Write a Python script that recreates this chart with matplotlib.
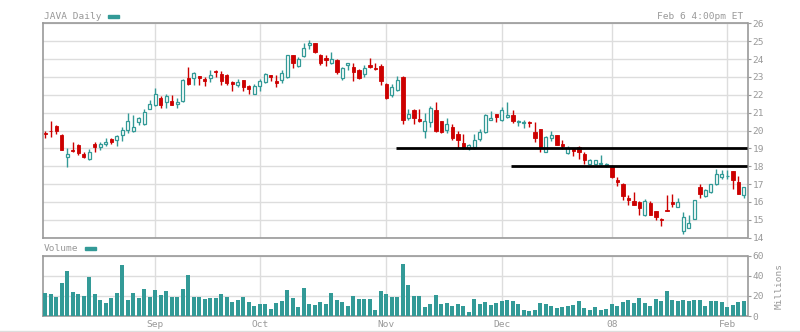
import numpy as np
import pandas as pd
import matplotlib
matplotlib.use("Agg")
import matplotlib.pyplot as plt
from matplotlib.lines import Line2D
from matplotlib.patches import Rectangle

# trading calendar, Aug 6 2007 .. Feb 6 2008
holidays = ["2007-09-03", "2007-11-22", "2007-12-25", "2008-01-01", "2008-01-21"]
days = pd.bdate_range("2007-08-06", "2008-02-06")
days = days[~days.isin(pd.to_datetime(holidays))]

opens = [19.87, 20.00, 20.24, 19.77, 18.50, 18.90, 19.20, 18.69, 18.38, 19.26,
         19.05, 19.27, 19.54, 19.45, 19.75, 20.00, 19.96, 20.47, 20.34, 21.23,
         21.44, 21.84, 21.57, 21.65, 21.50, 21.65, 22.96, 22.94, 23.03, 22.86,
         22.94, 23.34, 23.15, 23.09, 22.72, 22.55, 22.81, 22.50, 22.07, 22.51,
         22.70, 23.09, 22.78, 22.81, 23.00, 24.21, 23.62, 24.18, 24.76, 24.90,
         24.23, 24.07, 23.77, 23.97, 22.93, 23.64, 23.56, 23.39, 23.15, 23.67,
         23.52, 23.62, 22.60, 22.00, 22.29, 23.00, 20.72, 21.15, 20.64, 19.95,
         20.50, 21.15, 20.51, 20.05, 20.20, 19.80, 19.30, 19.02, 19.06, 19.54,
         19.93, 20.61, 20.93, 20.61, 20.76, 20.87, 20.48, 20.42, 20.50, 19.92,
         20.08, 18.79, 19.60, 19.75, 19.24, 18.72, 18.97, 19.06, 18.67, 18.10,
         18.10, 18.12, 18.09, 18.03, 17.24, 17.03, 16.24, 16.04, 16.02, 15.25,
         15.96, 15.51, 15.02, 15.55, 16.02, 15.72, 14.35, 14.57, 15.04, 16.81,
         16.32, 16.55, 16.98, 17.39, 17.45, 17.71, 17.09, 16.38]
highs = [20.00, 20.51, 20.30, 19.83, 19.00, 19.35, 19.24, 18.82, 18.95, 19.35,
         19.35, 19.58, 19.58, 19.77, 20.22, 21.00, 20.85, 20.76, 21.19, 21.70,
         22.39, 21.91, 22.05, 21.99, 21.82, 22.86, 23.53, 23.30, 23.07, 22.99,
         23.41, 23.41, 23.34, 23.17, 22.78, 22.87, 22.81, 22.55, 22.60, 22.89,
         23.22, 23.09, 23.09, 23.36, 24.21, 24.21, 24.10, 24.90, 25.04, 24.90,
         24.29, 24.20, 24.40, 24.00, 23.56, 23.77, 23.79, 23.45, 23.65, 24.07,
         23.79, 23.73, 22.64, 22.60, 23.07, 23.04, 21.20, 21.20, 21.20, 20.98,
         21.37, 21.62, 20.51, 20.70, 20.36, 19.99, 19.80, 19.24, 19.80, 20.08,
         20.94, 21.09, 20.93, 21.32, 21.62, 21.15, 20.61, 20.61, 20.55, 20.50,
         20.08, 19.71, 20.00, 19.75, 19.49, 19.14, 18.97, 19.14, 18.82, 18.39,
         18.37, 18.61, 18.20, 18.07, 17.37, 17.07, 16.38, 16.56, 16.04, 16.17,
         16.06, 15.51, 15.08, 16.41, 16.47, 16.23, 15.45, 15.29, 16.11, 17.03,
         16.71, 17.02, 17.82, 17.79, 17.79, 17.75, 17.43, 16.86]
lows = [19.58, 19.62, 19.81, 18.93, 17.97, 18.78, 18.65, 18.46, 18.35, 18.82,
        18.93, 19.14, 19.26, 19.14, 19.43, 19.87, 19.94, 20.28, 20.28, 21.19,
        21.38, 21.27, 21.27, 21.44, 21.27, 21.61, 22.52, 22.52, 22.52, 22.48,
        22.71, 22.99, 22.57, 22.57, 22.23, 22.44, 22.23, 22.05, 22.05, 22.23,
        22.66, 22.78, 22.46, 22.66, 22.93, 23.52, 23.56, 24.12, 24.57, 24.33,
        23.69, 23.62, 23.73, 23.19, 22.85, 23.36, 22.79, 22.89, 23.02, 23.49,
        23.36, 22.57, 21.77, 21.90, 22.23, 20.38, 20.59, 20.38, 20.48, 19.60,
        20.21, 19.92, 19.86, 19.88, 19.47, 19.02, 18.96, 18.90, 18.96, 19.39,
        19.88, 20.59, 20.50, 20.55, 20.70, 20.44, 20.27, 20.14, 20.20, 19.36,
        18.81, 18.78, 19.43, 19.20, 18.99, 18.71, 18.58, 18.41, 18.10, 18.10,
        18.10, 18.05, 17.95, 17.32, 16.88, 16.13, 15.81, 15.81, 15.25, 15.19,
        15.25, 15.00, 14.68, 15.47, 15.74, 15.72, 14.20, 14.53, 15.04, 16.21,
        16.28, 16.51, 16.94, 17.28, 17.26, 16.71, 16.45, 16.21]
closes = [19.83, 19.97, 19.96, 18.93, 18.69, 18.87, 18.74, 18.53, 18.82, 19.05,
          19.26, 19.33, 19.37, 19.69, 20.03, 20.55, 20.22, 20.68, 21.02, 21.48,
          22.03, 21.44, 21.91, 21.44, 21.57, 22.82, 22.61, 23.22, 22.94, 22.77,
          23.11, 23.28, 22.79, 22.66, 22.63, 22.70, 22.46, 22.35, 22.50, 22.78,
          23.17, 23.00, 22.68, 23.20, 24.21, 23.80, 24.00, 24.63, 24.90, 24.42,
          23.80, 23.92, 24.00, 23.30, 23.50, 23.76, 23.26, 22.96, 23.49, 23.56,
          23.47, 22.79, 21.82, 22.43, 22.83, 20.60, 20.91, 20.72, 20.51, 20.51,
          21.24, 19.95, 19.90, 20.35, 19.60, 19.49, 19.02, 19.17, 19.47, 19.92,
          20.87, 20.68, 20.78, 21.13, 20.87, 20.55, 20.55, 20.46, 20.42, 19.60,
          19.06, 19.64, 19.75, 19.20, 19.13, 19.00, 18.86, 18.80, 18.35, 18.33,
          18.33, 18.20, 18.14, 17.37, 17.11, 16.32, 16.09, 15.85, 15.64, 16.04,
          15.25, 15.14, 14.98, 15.50, 15.89, 15.98, 15.15, 14.85, 16.11, 16.43,
          16.68, 16.98, 17.58, 17.54, 17.48, 17.22, 16.47, 16.81]
# volume in millions of shares
volume = [23.2, 22.1, 18.5, 33.2, 44.3, 24.2, 22.1, 19.5, 39.3, 22.1,
          16.1, 13.1, 18.1, 23.2, 50.3, 16.1, 23.2, 18.1, 27.2, 19.1,
          26.2, 21.1, 25.2, 19.1, 19.1, 27.2, 40.3, 19.1, 19.1, 17.1,
          18.1, 18.1, 22.1, 19.1, 14.1, 16.1, 19.1, 14.1, 10.1,
          12.1, 12.1, 7.0, 13.1, 15.1, 26.2, 18.1, 9.1, 28.2, 12.1,
          11.1, 14.1, 12.1, 23.2, 16.1, 14.1, 10.1, 20.1, 17.1, 17.1,
          17.1, 6.0, 25.2,
          22.1, 18.5, 19.1, 51.3, 31.2, 20.1, 20.1, 9.1, 12.1, 21.1,
          12.1, 13.1, 10.1, 12.1, 10.1, 4.0, 17.1, 12.1, 14.1, 11.1, 13.1,
          15.1, 16.1, 15.1, 12.1, 6.0, 5.0, 6.0, 13.1, 12.1, 10.1,
          8.1, 9.1, 10.1, 11.1, 15.1, 8.1, 6.0, 9.1, 6.0, 7.0,
          12.1, 10.1, 14.1, 16.1, 13.1, 18.1, 13.1, 10.1, 17.1, 15.1,
          25.2, 16.1, 15.1, 16.1, 15.1, 16.1, 16.1, 10.1, 15.1, 15.1, 14.1,
          9.1, 11.1, 14.1, 15.1]

# support lines drawn from a given session to the right edge
support_levels = [19.0, 18.0]
support_from = ["2007-11-05", "2007-12-05"]

month_labels = ["Sep", "Oct", "Nov", "Dec", "08", "Feb"]
price_ticks = list(range(14, 27))
volume_ticks = [0, 20, 40, 60]

UP = "#339a97"
DOWN = "#cc0000"
GRID = "#dddddd"
FRAME = "#999999"
TEXT = "#999999"
FONT = "DejaVu Sans Mono"
FS = 6.8

o = np.array(opens)
h = np.array(highs)
l = np.array(lows)
c = np.array(closes)
x = np.arange(len(days))
up = c >= o

# first session of every month from September on
month_pos = [i for i in range(1, len(days)) if days[i].month != days[i - 1].month]

W, H = 800, 332
fig = plt.figure(figsize=(W / 100, H / 100), dpi=100)
ax = fig.add_axes([42.7 / W, 1 - 237.7 / H, 704.8 / W, 214.4 / H])
axv = fig.add_axes([42.7 / W, 1 - 316 / H, 704.8 / W, 60.3 / H])

xlim = (-0.47, len(days) - 1 + 0.67)

for a in (ax, axv):
    a.set_xlim(*xlim)
    for s in a.spines.values():
        s.set_color(FRAME)
        s.set_linewidth(1.2)
    a.set_xticks(month_pos)
    a.grid(True, color=GRID, linewidth=1.0)
    a.set_axisbelow(True)
    a.yaxis.tick_right()
    a.tick_params(axis="y", length=2, width=0.8, color=FRAME, pad=1.5,
                  labelsize=FS, labelcolor=TEXT)
    for t in a.get_yticklabels():
        t.set_fontfamily(FONT)

# candles: wicks first, then bodies (hollow for up days)
ax.vlines(x[up], l[up], h[up], color=UP, linewidth=1.0, zorder=2)
ax.vlines(x[~up], l[~up], h[~up], color=DOWN, linewidth=1.0, zorder=2)
body_lo = np.minimum(o, c)
body_hi = np.maximum(o, c)
ax.bar(x[up], body_hi[up] - body_lo[up], bottom=body_lo[up], width=0.55,
       facecolor="white", edgecolor=UP, linewidth=0.9, zorder=3)
ax.bar(x[~up], body_hi[~up] - body_lo[~up], bottom=body_lo[~up], width=0.62,
       facecolor=DOWN, edgecolor=DOWN, linewidth=0.6, zorder=3)

for lvl, d in zip(support_levels, support_from):
    start = days.get_loc(pd.Timestamp(d)) - 0.3
    ax.hlines(lvl, start, xlim[1], color="black", linewidth=2.0, zorder=4)

ax.set_ylim(14, 26)
ax.set_yticks(price_ticks)
ax.set_yticklabels([str(v) for v in price_ticks])
ax.tick_params(axis="x", length=0, labelbottom=False)

axv.bar(x, volume, width=0.72, color=UP, linewidth=0, zorder=3)
axv.set_ylim(0, 60)
axv.set_yticks(volume_ticks)
axv.set_yticklabels([str(v) for v in volume_ticks])
axv.set_xticklabels(month_labels, fontfamily=FONT, fontsize=FS, color=TEXT)
axv.tick_params(axis="x", length=0, pad=3)

# headers and legend swatches
fig.text(44 / W, 1 - 16.7 / H, "JAVA Daily", ha="left", va="center",
         fontfamily=FONT, fontsize=FS, color=TEXT)
fig.patches.append(Rectangle((108 / W, 1 - 17.5 / H), 11 / W, 3 / H,
                             transform=fig.transFigure, color=UP))
fig.text(743 / W, 1 - 16.7 / H, "Feb 6 4:00pm ET", ha="right", va="center",
         fontfamily=FONT, fontsize=FS, color=TEXT)
fig.text(44 / W, 1 - 248.5 / H, "Volume", ha="left", va="center",
         fontfamily=FONT, fontsize=FS, color=TEXT)
fig.patches.append(Rectangle((85 / W, 1 - 250 / H), 11 / W, 3 / H,
                             transform=fig.transFigure, color=UP))
fig.text(779 / W, 1 - 286 / H, "Millions", ha="center", va="center",
         rotation=90, fontfamily=FONT, fontsize=FS, color=TEXT)
fig.lines.append(Line2D([0, 1], [1 - 331 / H, 1 - 331 / H],
                        transform=fig.transFigure, color=GRID, linewidth=1.0))

fig.savefig("out.png", dpi=100)
